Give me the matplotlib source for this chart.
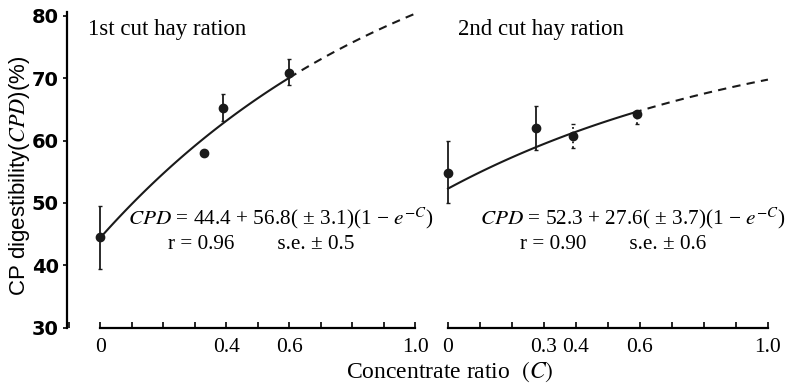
import numpy as np
import matplotlib.pyplot as plt
from matplotlib.ticker import FixedLocator, MultipleLocator

plt.rcParams['font.family'] = ['Liberation Serif', 'DejaVu Serif']
plt.rcParams['mathtext.fontset'] = 'stix'

# 1st cut hay ration
c1 = [0.0, 0.33, 0.39, 0.60]
cpd1 = [44.6, 58.0, 65.2, 70.8]
lo1 = [5.1, 0.0, 2.1, 1.9]
hi1 = [4.9, 0.0, 2.2, 2.3]
a1, b1 = 44.4, 56.8

# 2nd cut hay ration
c2 = [0.0, 0.275, 0.39, 0.59]
cpd2 = [54.8, 62.0, 60.7, 64.3]
lo2 = [4.8, 3.5, 1.9, 1.6]
hi2 = [5.1, 3.6, 2.0, 0.0]
a2, b2 = 52.3, 27.6

W, H = 795, 385
fig = plt.figure(figsize=(W / 100, H / 100), dpi=100)

def px_axes(x0, x1, y0, y1):
    return fig.add_axes([x0 / W, 1 - y1 / H, (x1 - x0) / W, (y1 - y0) / H])

ax1 = px_axes(67, 431, 12.4, 331.1)
ax2 = px_axes(440, 790, 12.4, 331.1)
ax1.set_xlim(-0.105, 1.05)
ax2.set_xlim(-0.025, 1.069)

for ax in (ax1, ax2):
    ax.set_ylim(29.5, 80.5)
    ax.patch.set_alpha(0)
    for s in ('top', 'right'):
        ax.spines[s].set_visible(False)
    ax.spines['bottom'].set_position(('data', 30))
    ax.spines['bottom'].set_bounds(0, 1)
    ax.spines['bottom'].set_linewidth(1.6)
    ax.xaxis.set_minor_locator(MultipleLocator(0.1))
    ax.tick_params(axis='x', which='both', direction='in', length=4, width=1.2,
                   labelsize=15.5, pad=7)

ax1.xaxis.set_major_locator(FixedLocator([0, 0.4, 0.6, 1.0]))
ax1.set_xticklabels(['0', '0.4', '0.6', '1.0'])
ax2.xaxis.set_major_locator(FixedLocator([0, 0.3, 0.4, 0.6, 1.0]))
ax2.set_xticklabels(['0', '0.3', '0.4', '0.6', '1.0'])

ax1.spines['left'].set_linewidth(1.6)
ax1.spines['left'].set_bounds(30, 80.5)
ax1.set_yticks([30, 40, 50, 60, 70, 80])
ax1.tick_params(axis='y', direction='out', length=3, width=1.2, labelsize=14, pad=3)
for t in ax1.get_yticklabels():
    t.set_family('Liberation Sans Narrow')
    t.set_fontweight('bold')
ax2.spines['left'].set_visible(False)
ax2.set_yticks([])

# fitted curves: solid over the data, dashed beyond
for ax, a, b, cmax in ((ax1, a1, b1, 0.6), (ax2, a2, b2, 0.58)):
    cs = np.linspace(0, cmax, 60)
    cd = np.linspace(cmax, 1.0, 40)
    ax.plot(cs, a + b * (1 - np.exp(-cs)), color='#1a1a1a', lw=1.5)
    ax.plot(cd, a + b * (1 - np.exp(-cd)), color='#1a1a1a', lw=1.5,
            dashes=(4, 3))

ax1.errorbar(c1, cpd1, yerr=[lo1, hi1], fmt='o', color='#1a1a1a', ms=6,
             elinewidth=1.3, capsize=1.5)
ax2.errorbar(c2[:2], cpd2[:2], yerr=[lo2[:2], hi2[:2]], fmt='o', color='#1a1a1a',
             ms=6, elinewidth=1.3, capsize=1.5)
eb = ax2.errorbar(c2[2:], cpd2[2:], yerr=[lo2[2:], hi2[2:]], fmt='o',
                  color='#1a1a1a', ms=6, elinewidth=1.3, capsize=1.5)
eb[2][0].set_linestyle(':')

ax1.text(-0.038, 77.7, '1st cut hay ration', fontsize=16.5, va='center')
ax2.text(0.031, 77.7, '2nd cut hay ration', fontsize=16.5, va='center')

ax1.text(0.089, 47.4, r'$CPD$ = 44.4 + 56.8( ± 3.1)(1 − $e^{-C}$)', fontsize=15.3,
         va='center')
ax1.text(0.216, 43.3, 'r = 0.96        s.e. ± 0.5', fontsize=15.3, va='center')
ax2.text(0.1, 47.4, r'$CPD$ = 52.3 + 27.6( ± 3.7)(1 − $e^{-C}$)', fontsize=15.3,
         va='center')
ax2.text(0.225, 43.3, 'r = 0.90        s.e. ± 0.6', fontsize=15.3, va='center')

fig.text(450 / W, 1 - 372 / H, 'Concentrate ratio  $(C)$', fontsize=17,
         ha='center', va='center')
fig.text(20 / W, 1 - 176 / H, 'CP digestibility($CPD$)(%)', fontsize=16,
         rotation=90, ha='center', va='center', family='Liberation Sans')

fig.savefig('out.png', dpi=100)
